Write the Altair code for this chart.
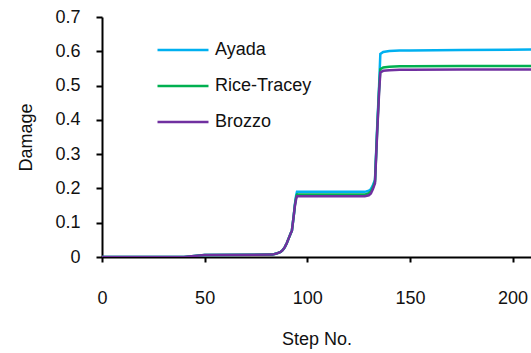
import altair as alt
import pandas as pd

steps = [0, 40, 45, 50, 83, 85, 87, 88, 89, 90, 91, 92, 92.5, 93, 93.5, 94, 94.6, 95,
         96, 100, 120, 128, 130, 131, 132, 133, 134, 135, 135.6, 137, 140, 145, 150, 175, 209]
ayada = [0, 0, 0.003, 0.006, 0.007, 0.01, 0.015, 0.02, 0.028, 0.04, 0.055, 0.07, 0.076,
         0.1, 0.125, 0.155, 0.18, 0.19, 0.19, 0.19, 0.19, 0.19, 0.193, 0.198, 0.21,
         0.225, 0.37, 0.5, 0.592, 0.598, 0.601, 0.602, 0.602, 0.604, 0.605]
rice_tracey = [0, 0, 0.003, 0.006, 0.007, 0.01, 0.015, 0.02, 0.028, 0.04, 0.055, 0.07, 0.076,
               0.1, 0.125, 0.152, 0.175, 0.182, 0.182, 0.182, 0.182, 0.182, 0.186, 0.191,
               0.203, 0.22, 0.36, 0.49, 0.548, 0.553, 0.555, 0.556, 0.556, 0.557, 0.557]
brozzo = [0, 0, 0.003, 0.006, 0.007, 0.01, 0.015, 0.02, 0.028, 0.04, 0.055, 0.07, 0.076,
          0.1, 0.125, 0.15, 0.17, 0.177, 0.177, 0.177, 0.177, 0.177, 0.18, 0.185, 0.198,
          0.215, 0.355, 0.48, 0.538, 0.543, 0.545, 0.546, 0.546, 0.547, 0.547]
series = ["Ayada", "Rice-Tracey", "Brozzo"]
colors = ["#00B0F0", "#00B050", "#7030A0"]
x_ticks = [0, 50, 100, 150, 200]
y_ticks = [0, 0.1, 0.2, 0.3, 0.4, 0.5, 0.6, 0.7]

rows = []
for name, vals in zip(series, [ayada, rice_tracey, brozzo]):
    for s, v in zip(steps, vals):
        rows.append({"Step": s, "Damage": v, "Model": name})
df = pd.DataFrame(rows)

FONT = "Liberation Sans, Arial, sans-serif"

chart = alt.Chart(df).mark_line(strokeWidth=2.5, clip=True).encode(
    x=alt.X("Step:Q", scale=alt.Scale(domain=[0, 209], nice=False, zero=False),
            axis=alt.Axis(values=x_ticks, title="Step No.", grid=False, labelFlush=False,
                          labelPadding=27, titlePadding=23, tickSize=5)),
    y=alt.Y("Damage:Q", scale=alt.Scale(domain=[0, 0.7], nice=False),
            axis=alt.Axis(values=y_ticks, title="Damage", grid=False, format="~g",
                          labelPadding=16, titlePadding=19, tickSize=6)),
    color=alt.Color("Model:N", scale=alt.Scale(domain=series, range=colors),
                    sort=series,
                    legend=alt.Legend(title=None, orient="none", legendX=54, legendY=6,
                                      symbolType="stroke", symbolSize=2600,
                                      symbolStrokeWidth=2.5, labelFontSize=18,
                                      labelFont=FONT, labelColor="#111",
                                      labelOffset=5, rowPadding=0)),
    order=alt.Order("Step:Q"),
).properties(
    width=429, height=240,
    autosize=alt.AutoSizeParams(type="none"),
    padding={"left": 102, "top": 17, "right": 0, "bottom": 96},
).configure_view(stroke=None).configure_axis(
    domainColor="black", domainWidth=2, tickColor="black", tickWidth=2,
    labelFont=FONT, labelFontSize=18, labelColor="#111",
    titleFont=FONT, titleFontSize=18, titleFontWeight="normal", titleColor="#111",
)

chart.save("out.html", embed_options={"renderer": "svg", "actions": False})
